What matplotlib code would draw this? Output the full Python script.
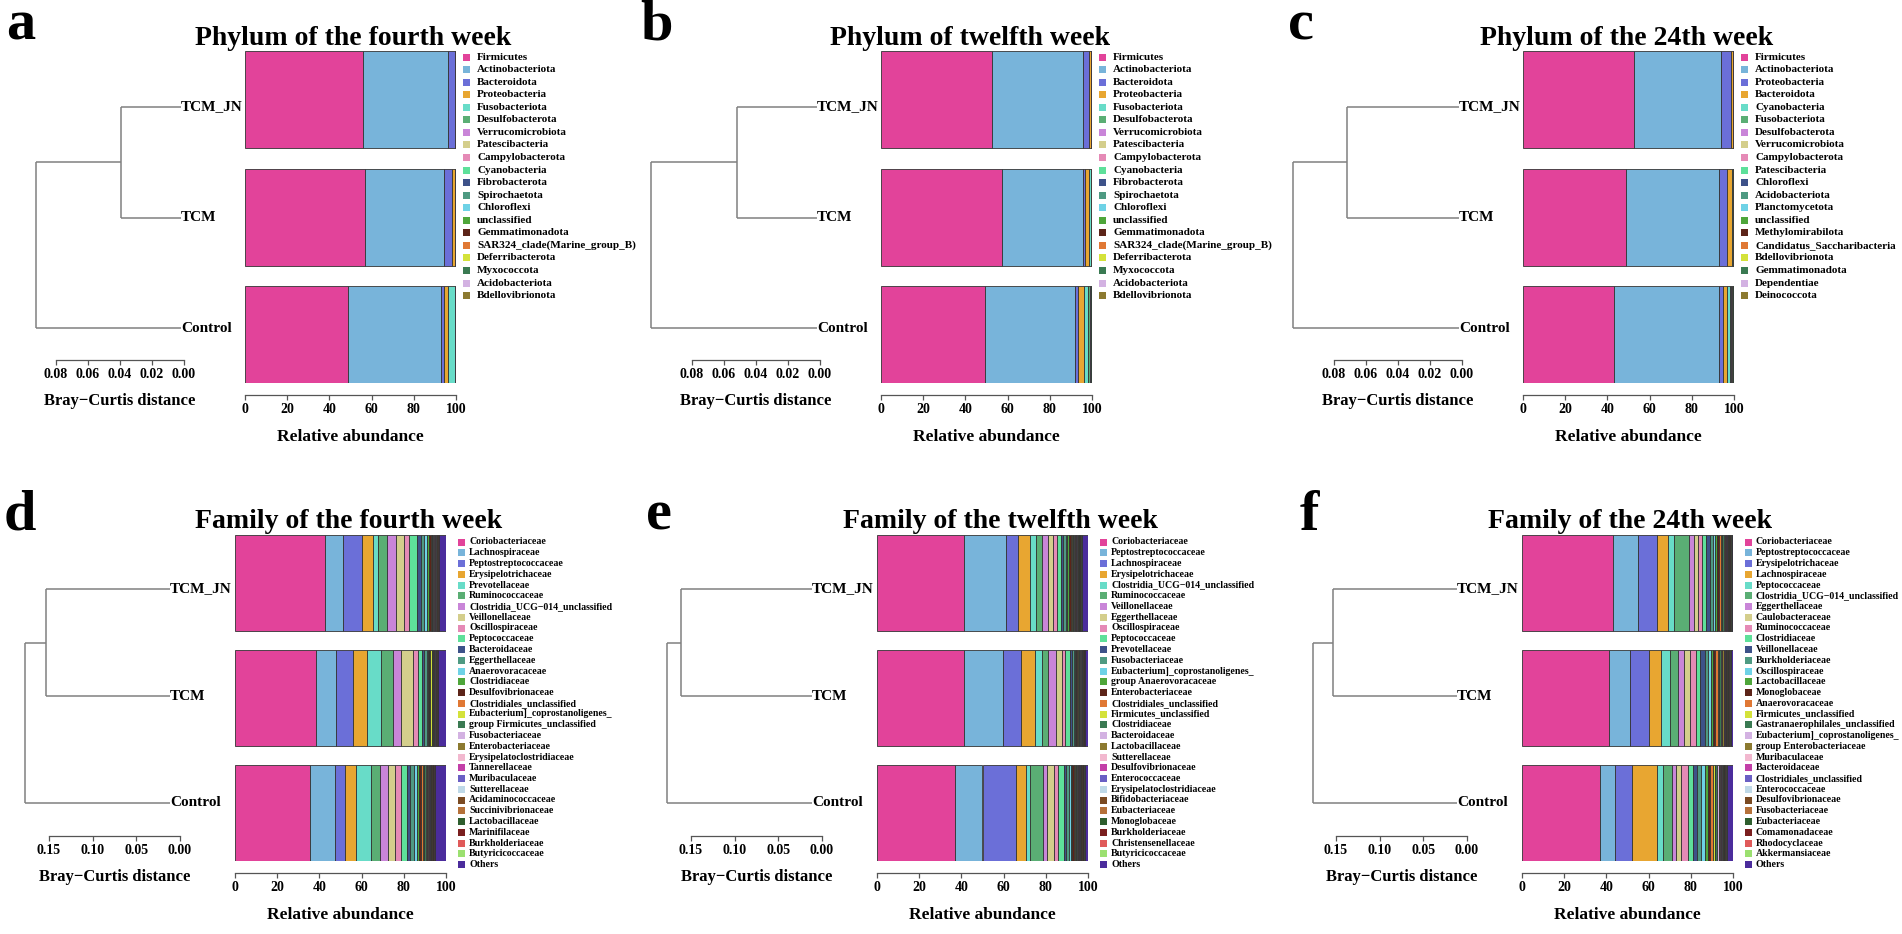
import matplotlib
matplotlib.use('Agg')
import matplotlib.pyplot as plt
from matplotlib.patches import Rectangle

# ---------------- DATA ----------------
groups = ['TCM_JN', 'TCM', 'Control']

a_labels = ['Firmicutes', 'Actinobacteriota', 'Bacteroidota', 'Proteobacteria', 'Fusobacteriota',
            'Desulfobacterota', 'Verrucomicrobiota', 'Patescibacteria', 'Campylobacterota', 'Cyanobacteria',
            'Fibrobacterota', 'Spirochaetota', 'Chloroflexi', 'unclassified', 'Gemmatimonadota',
            'SAR324_clade(Marine_group_B)', 'Deferribacterota', 'Myxococcota', 'Acidobacteriota', 'Bdellovibrionota']
a_TCM_JN = [56.0, 40.2, 3.3, 0.2, 0.03, 0.03, 0.02, 0.02, 0.02, 0.02, 0.02, 0.02, 0.02, 0.02, 0.02, 0.01, 0.01, 0.01, 0.01, 0.01]
a_TCM = [57.0, 37.3, 3.7, 1.5, 0.15, 0.1, 0.03, 0.03, 0.02, 0.02, 0.02, 0.02, 0.02, 0.02, 0.01, 0.01, 0.01, 0.01, 0.01, 0.01]
a_Control = [49.0, 44.0, 1.5, 1.8, 3.2, 0.2, 0.08, 0.05, 0.03, 0.02, 0.02, 0.02, 0.02, 0.01, 0.01, 0.01, 0.01, 0.01, 0.01, 0.01]
a_tree = [0.0375, 0.0906]

b_labels = list(a_labels)
b_TCM_JN = [52.5, 43.0, 3.2, 0.6, 0.2, 0.1, 0.1, 0.05, 0.05, 0.03, 0.03, 0.02, 0.02, 0.02, 0.02, 0.01, 0.01, 0.01, 0.01, 0.01]
b_TCM = [57.5, 38.0, 1.2, 2.0, 0.6, 0.3, 0.1, 0.1, 0.05, 0.03, 0.03, 0.02, 0.02, 0.01, 0.01, 0.01, 0.01, 0.01, 0.01, 0.01]
b_Control = [49.5, 42.5, 1.5, 2.6, 1.8, 1.2, 0.3, 0.2, 0.1, 0.1, 0.05, 0.05, 0.03, 0.02, 0.01, 0.01, 0.01, 0.01, 0.01, 0.01]
b_tree = [0.05, 0.104]

c_labels = ['Firmicutes', 'Actinobacteriota', 'Proteobacteria', 'Bacteroidota', 'Cyanobacteria',
            'Fusobacteriota', 'Desulfobacterota', 'Verrucomicrobiota', 'Campylobacterota', 'Patescibacteria',
            'Chloroflexi', 'Acidobacteriota', 'Planctomycetota', 'unclassified', 'Methylomirabilota',
            'Candidatus_Saccharibacteria', 'Bdellovibrionota', 'Gemmatimonadota', 'Dependentiae', 'Deinococcota']
c_TCM_JN = [52.5, 41.5, 4.5, 0.8, 0.2, 0.1, 0.1, 0.05, 0.05, 0.05, 0.03, 0.03, 0.02, 0.02, 0.01, 0.01, 0.01, 0.01, 0.005, 0.005]
c_TCM = [49.0, 44.0, 3.5, 2.5, 0.4, 0.2, 0.1, 0.1, 0.05, 0.05, 0.03, 0.02, 0.01, 0.01, 0.01, 0.01, 0.01, 0.01, 0.005, 0.005]
c_Control = [43.0, 50.0, 2.0, 1.5, 1.5, 0.8, 0.4, 0.3, 0.2, 0.1, 0.05, 0.05, 0.03, 0.02, 0.01, 0.01, 0.01, 0.01, 0.005, 0.005]
c_tree = [0.07, 0.104]

d_labels = ['Coriobacteriaceae', 'Lachnospiraceae', 'Peptostreptococcaceae', 'Erysipelotrichaceae',
            'Prevotellaceae', 'Ruminococcaceae', 'Clostridia_UCG\u2212014_unclassified', 'Veillonellaceae',
            'Oscillospiraceae', 'Peptococcaceae', 'Bacteroidaceae', 'Eggerthellaceae', 'Anaerovoracaceae',
            'Clostridiaceae', 'Desulfovibrionaceae', 'Clostridiales_unclassified', 'Eubacterium]_coprostanoligenes_',
            'group Firmicutes_unclassified', 'Fusobacteriaceae', 'Enterobacteriaceae', 'Erysipelatoclostridiaceae',
            'Tannerellaceae', 'Muribaculaceae', 'Sutterellaceae', 'Acidaminococcaceae', 'Succinivibrionaceae',
            'Lactobacillaceae', 'Marinifilaceae', 'Burkholderiaceae', 'Butyricicoccaceae', 'Others']
d_TCM_JN = [42.7, 8.6, 9.0, 5.3, 2.4, 4.2, 4.0, 4.0, 2.4, 3.8, 1.6, 1.7, 1.3, 0.9, 0.8, 0.5, 0.4, 0.3, 0.3, 0.3,
            0.3, 0.3, 0.3, 0.2, 0.2, 0.2, 0.2, 0.2, 0.2, 0.2, 3.4]
d_TCM = [38.2, 9.5, 8.1, 6.8, 6.7, 5.7, 3.5, 6.0, 2.4, 1.6, 1.2, 1.1, 0.6, 0.5, 0.4, 0.3, 0.8, 0.3, 0.3, 0.3,
         0.2, 0.2, 0.2, 0.2, 0.2, 0.2, 0.2, 0.2, 0.2, 0.2, 3.7]
d_Control = [35.5, 11.9, 4.7, 5.2, 7.0, 4.4, 4.0, 3.1, 3.0, 2.8, 1.5, 1.6, 1.4, 1.0, 1.2, 0.8, 0.7, 0.5, 0.6, 0.5,
             0.5, 0.4, 0.4, 0.4, 0.3, 0.3, 0.3, 0.3, 0.3, 0.3, 5.1]
d_tree = [0.142, 0.166]

e_labels = ['Coriobacteriaceae', 'Peptostreptococcaceae', 'Lachnospiraceae', 'Erysipelotrichaceae',
            'Clostridia_UCG\u2212014_unclassified', 'Ruminococcaceae', 'Veillonellaceae', 'Eggerthellaceae',
            'Oscillospiraceae', 'Peptococcaceae', 'Prevotellaceae', 'Fusobacteriaceae',
            'Eubacterium]_coprostanoligenes_', 'group Anaerovoracaceae', 'Enterobacteriaceae',
            'Clostridiales_unclassified', 'Firmicutes_unclassified', 'Clostridiaceae', 'Bacteroidaceae',
            'Lactobacillaceae', 'Sutterellaceae', 'Desulfovibrionaceae', 'Enterococcaceae',
            'Erysipelatoclostridiaceae', 'Bifidobacteriaceae', 'Eubacteriaceae', 'Monoglobaceae',
            'Burkholderiaceae', 'Christensenellaceae', 'Butyricicoccaceae', 'Others']
e_TCM_JN = [41.2, 19.9, 5.7, 5.7, 2.7, 3.2, 2.8, 2.4, 1.6, 1.9, 1.0, 1.3, 0.8, 1.0, 0.6, 0.5, 0.5, 0.5, 0.4, 0.4,
            0.3, 0.3, 0.3, 0.3, 0.3, 0.3, 0.3, 0.3, 0.3, 0.3, 2.9]
e_TCM = [41.2, 18.7, 8.3, 6.7, 3.1, 3.2, 3.5, 2.8, 1.8, 2.2, 0.8, 0.9, 0.6, 0.7, 0.5, 0.4, 0.4, 0.4, 0.3, 0.3,
         0.2, 0.2, 0.2, 0.2, 0.2, 0.2, 0.2, 0.2, 0.2, 0.2, 1.2]
e_Control = [37.0, 13.0, 16.0, 4.5, 2.0, 6.0, 2.0, 3.5, 2.0, 2.5, 1.0, 1.5, 0.8, 0.8, 0.6, 0.6, 0.5, 0.5, 0.4, 0.4,
             0.3, 0.3, 0.3, 0.3, 0.3, 0.3, 0.3, 0.3, 0.3, 0.3, 1.4]
e_tree = [0.150, 0.166]

f_labels = ['Coriobacteriaceae', 'Peptostreptococcaceae', 'Erysipelotrichaceae', 'Lachnospiraceae',
            'Peptococcaceae', 'Clostridia_UCG\u2212014_unclassified', 'Eggerthellaceae', 'Caulobacteraceae',
            'Ruminococcaceae', 'Clostridiaceae', 'Veillonellaceae', 'Burkholderiaceae', 'Oscillospiraceae',
            'Lactobacillaceae', 'Monoglobaceae', 'Anaerovoracaceae', 'Firmicutes_unclassified',
            'Gastranaerophilales_unclassified', 'Eubacterium]_coprostanoligenes_', 'group Enterobacteriaceae',
            'Muribaculaceae', 'Bacteroidaceae', 'Clostridiales_unclassified', 'Enterococcaceae',
            'Desulfovibrionaceae', 'Fusobacteriaceae', 'Eubacteriaceae', 'Comamonadaceae', 'Rhodocyclaceae',
            'Akkermansiaceae', 'Others']
f_TCM_JN = [43.0, 12.0, 9.0, 5.0, 3.0, 7.0, 2.5, 2.0, 2.0, 1.8, 1.6, 1.4, 1.2, 1.0, 0.9, 0.8, 0.7, 0.6, 0.5, 0.5,
            0.3, 0.3, 0.3, 0.3, 0.3, 0.3, 0.3, 0.3, 0.3, 0.3, 0.5]
f_TCM = [41.0, 10.0, 9.0, 6.0, 4.0, 4.0, 3.0, 2.5, 3.0, 2.0, 2.0, 1.5, 1.5, 1.2, 1.0, 1.0, 0.8, 0.8, 0.6, 0.6,
         0.35, 0.35, 0.35, 0.35, 0.35, 0.35, 0.35, 0.35, 0.35, 0.35, 1.0]
f_Control = [37.0, 7.0, 8.0, 12.0, 3.0, 4.0, 2.0, 2.5, 3.0, 2.5, 2.0, 2.0, 1.5, 1.5, 1.2, 1.2, 1.0, 1.0, 0.8, 0.8,
             0.3, 0.3, 0.3, 0.3, 0.3, 0.3, 0.3, 0.3, 0.3, 0.3, 3.0]
f_tree = [0.142, 0.165]

palette = ['#E2439A', '#78B4DA', '#6B6FD8', '#E8A631', '#68DCC8', '#5AAE74', '#C985D8', '#D4CE8C',
           '#E58AB6', '#5EE09A', '#3D5289', '#4E9A82', '#6ED2E6', '#4EA63A', '#5C2418', '#E07834',
           '#D4E23A', '#3A7A52', '#D3B2E2', '#8C7A30', '#F2B8CF', '#C33FA8', '#6A5FC4', '#BFD9E8',
           '#7A4A22', '#B5713A', '#2E5E2E', '#7A1F1F', '#E05A5A', '#9BE070', '#4B2C9C']

# ---------------- LAYOUT ----------------
W, H = 1902, 934
plt.rcParams['font.family'] = ['Liberation Serif', 'DejaVu Serif']
plt.rcParams['font.weight'] = 'bold'
fig = plt.figure(figsize=(W / 100, H / 100), dpi=100)
PT = 72 / 100.0  # points per pixel


def rect(x0, y0, x1, y1):
    return [x0 / W, 1 - y1 / H, (x1 - x0) / W, (y1 - y0) / H]


over = fig.add_axes([0, 0, 1, 1])
over.set_xlim(0, W)
over.set_ylim(H, 0)
over.axis('off')

rows = {
    1: dict(bar_top=51, pitch=117.5, bar_px=97, leaves=[107, 217, 328], scale_y=360, ppu=1600,
            sticks=[0.08, 0.06, 0.04, 0.02, 0.00], sfmt='{:.2f}', leg_y0=57, leg_dy=12.56,
            leg_sq=218, leg_tx=232, leg_fs=8.0, letter_y=39, title_y=45),
    2: dict(bar_top=535, pitch=115, bar_px=96, leaves=[589, 696, 803], scale_y=836, ppu=873,
            sticks=[0.15, 0.10, 0.05, 0.00], sfmt='{:.2f}', leg_y0=542, leg_dy=10.75,
            leg_sq=223, leg_tx=234, leg_fs=7.1, letter_y=530, title_y=528),
}

panels = [
    dict(row=1, letter='a', title='Phylum of the fourth week', bar_x0=245, leaf_x=181, zero_x=184, letter_x=6,
         title_x=195, labels=a_labels, vals=[a_TCM_JN, a_TCM, a_Control], tree=a_tree),
    dict(row=1, letter='b', title='Phylum of twelfth week', bar_x0=881, leaf_x=817, zero_x=820, letter_x=640,
         title_x=830, labels=b_labels, vals=[b_TCM_JN, b_TCM, b_Control], tree=b_tree),
    dict(row=1, letter='c', title='Phylum of the 24th week', bar_x0=1523, leaf_x=1459, zero_x=1462, letter_x=1288,
         title_x=1480, labels=c_labels, vals=[c_TCM_JN, c_TCM, c_Control], tree=c_tree),
    dict(row=2, letter='d', title='Family of the fourth week', bar_x0=235, leaf_x=170, zero_x=180, letter_x=4,
         title_x=195, labels=d_labels, vals=[d_TCM_JN, d_TCM, d_Control], tree=d_tree),
    dict(row=2, letter='e', title='Family of the twelfth week', bar_x0=877, leaf_x=812, zero_x=822, letter_x=646,
         title_x=843, labels=e_labels, vals=[e_TCM_JN, e_TCM, e_Control], tree=e_tree),
    dict(row=2, letter='f', title='Family of the 24th week', bar_x0=1522, leaf_x=1457, zero_x=1467, letter_x=1300,
         title_x=1488, labels=f_labels, vals=[f_TCM_JN, f_TCM, f_Control], tree=f_tree),
]

BAR_W = 211
AX_COL = '#555555'
TREE_COL = '#808080'

for p in panels:
    r = rows[p['row']]
    # letter and title
    over.text(p['letter_x'], r['letter_y'], p['letter'], fontsize=42, fontweight='bold',
              ha='left', va='baseline')
    over.text(p['title_x'], r['title_y'], p['title'], fontsize=20, fontweight='bold',
              ha='left', va='baseline')

    # ---- stacked bars ----
    hfrac = r['bar_px'] / r['pitch']
    top = r['bar_top']
    bottom = top + r['pitch'] * 2 + r['bar_px']
    ax = fig.add_axes(rect(p['bar_x0'], top, p['bar_x0'] + BAR_W, bottom))
    for gi, vals in enumerate(p['vals']):
        left = 0.0
        for ci, v in enumerate(vals):
            ax.barh(gi, v, left=left, height=hfrac, color=palette[ci], edgecolor='#333333',
                    linewidth=0.6)
            left += v
    ax.set_xlim(0, 100)
    ax.set_ylim(2 + hfrac / 2, -hfrac / 2)
    for s in ['top', 'right', 'left']:
        ax.spines[s].set_visible(False)
    ax.spines['bottom'].set_position(('outward', 12 * PT))
    ax.spines['bottom'].set_bounds(0, 100)
    ax.spines['bottom'].set_color(AX_COL)
    ax.spines['bottom'].set_linewidth(0.9)
    ax.set_yticks([])
    ax.set_xticks([0, 20, 40, 60, 80, 100])
    ax.tick_params(axis='x', length=5 * PT, width=0.9, color=AX_COL, labelsize=10, pad=2.5)
    for t in ax.get_xticklabels():
        t.set_fontweight('bold')
    ax.set_xlabel('Relative abundance', fontsize=12.5, fontweight='bold', labelpad=9)
    ax.patch.set_alpha(0)

    # ---- legend ----
    sq = p['bar_x0'] + r['leg_sq']
    tx = p['bar_x0'] + r['leg_tx']
    for li, lab in enumerate(p['labels']):
        y = r['leg_y0'] + li * r['leg_dy']
        over.add_patch(Rectangle((sq, y - 3.5), 7, 7, facecolor=palette[li], edgecolor='none'))
        over.text(tx, y, lab, fontsize=r['leg_fs'], fontweight='bold', ha='left', va='center')

    # ---- dendrogram ----
    h1, h2 = p['tree']
    ppu = r['ppu']
    lv = r['leaves']
    tax = fig.add_axes(rect(p['leaf_x'] - h2 * ppu, lv[0], p['leaf_x'], lv[2]))
    tax.set_xlim(h2, 0)
    tax.set_ylim(2, 0)
    tax.axis('off')
    kw = dict(color=TREE_COL, lw=1.1, clip_on=False, solid_capstyle='butt')
    tax.plot([0, h1], [0, 0], **kw)
    tax.plot([0, h1], [1, 1], **kw)
    tax.plot([h1, h1], [0, 1], **kw)
    tax.plot([h1, h2], [0.5, 0.5], **kw)
    tax.plot([0, h2], [2, 2], **kw)
    tax.plot([h2, h2], [0.5, 2], **kw)
    for gi, g in enumerate(groups):
        tax.text(0, gi, g, fontsize=11, fontweight='bold', ha='left', va='center')

    # ---- distance scale ----
    smax = r['sticks'][0]
    sax = fig.add_axes(rect(p['zero_x'] - smax * ppu, r['scale_y'] - 1, p['zero_x'], r['scale_y']))
    sax.set_xlim(smax, 0)
    sax.patch.set_alpha(0)
    for s in ['top', 'right', 'left']:
        sax.spines[s].set_visible(False)
    sax.spines['bottom'].set_color(AX_COL)
    sax.spines['bottom'].set_linewidth(0.9)
    sax.set_yticks([])
    sax.set_xticks(r['sticks'])
    sax.set_xticklabels([r['sfmt'].format(t) for t in r['sticks']], fontweight='bold')
    sax.tick_params(axis='x', length=5 * PT, width=0.9, color=AX_COL, labelsize=10, pad=2.5)
    sax.set_xlabel('Bray\u2212Curtis distance', fontsize=12, fontweight='bold', labelpad=8)

fig.savefig('out.png', dpi=100)
